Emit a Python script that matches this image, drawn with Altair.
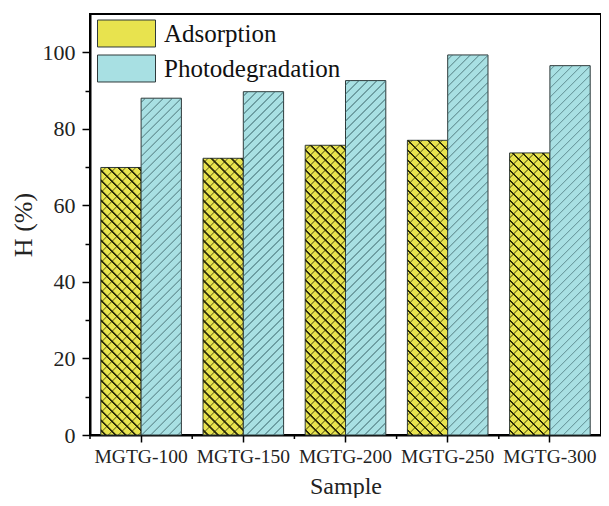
import altair as alt
import pandas as pd

# ---- data ----
samples = ["MGTG-100", "MGTG-150", "MGTG-200", "MGTG-250", "MGTG-300"]
series_names = ["Adsorption", "Photodegradation"]
adsorption = [69.9, 72.3, 75.7, 77.0, 73.7]
photodegradation = [88.0, 89.7, 92.6, 99.3, 96.5]
bar_colors = ["#E8E34E", "#A8E0E3"]
y_ticks = [0, 10, 20, 30, 40, 50, 60, 70, 80, 90, 100]

records = []
for i, s in enumerate(samples):
    records.append({"Sample": s, "Series": series_names[0], "H": adsorption[i]})
    records.append({"Sample": s, "Series": series_names[1], "H": photodegradation[i]})
df = pd.DataFrame(records)
ticks_df = pd.DataFrame({"Sample": samples})

FONT = "Liberation Serif"
W, H = 511, 421
Y_MAX = 110
OFFSET_PAD = 0.268

# bar geometry (needed to build the hatch gradients in pixel space)
STEP = W / len(samples)
BAR_W = STEP / (2 + 2 * OFFSET_PAD)


def stripe_gradient(w, h, period, thick, color, direction):
    L = w + h
    k = L / (w * w + h * h)
    if direction == "/":
        x1, y1, x2, y2 = 0, 0, w * k, h * k
    else:
        x1, y1, x2, y2 = 0, 1, w * k, 1 - h * k
    clear = "rgba(0,0,0,0)"
    stops = [{"offset": 0, "color": clear}]
    half = thick / 2.0
    edge = 0.5
    c = period / 2.0
    while c < L:
        for off, col in [(c - half - edge, clear), (c - half, color),
                         (c + half, color), (c + half + edge, clear)]:
            o = min(max(off / L, 0.0), 1.0)
            stops.append({"offset": round(o, 5), "color": col})
        c += period
    stops.append({"offset": 1, "color": clear})
    return {"gradient": "linear", "x1": x1, "y1": y1, "x2": x2, "y2": y2, "stops": stops}


x_enc = alt.X(
    "Sample:N",
    sort=samples,
    scale=alt.Scale(paddingInner=0, paddingOuter=0),
    axis=alt.Axis(
        title="Sample",
        labelAngle=0,
        labelFont=FONT,
        labelFontSize=19.5,
        labelColor="#222222",
        labelBaseline="alphabetic",
        labelPadding=20,
        tickSize=7,
        tickWidth=1.5,
        tickColor="black",
        domainColor="black",
        domainWidth=2,
        titleFont=FONT,
        titleFontSize=24,
        titleFontWeight="normal",
        titleColor="#222222",
        titleBaseline="alphabetic",
        titleY=58,
    ),
)

y_enc = alt.Y(
    "H:Q",
    scale=alt.Scale(domain=[0, Y_MAX], nice=False, zero=True),
    axis=alt.Axis(
        title="H (%)",
        values=y_ticks,
        labelExpr="datum.value % 20 === 0 ? datum.label : ''",
        tickSize={"condition": {"test": "datum.value % 20 === 0", "value": 8}, "value": 5},
        tickWidth=1.5,
        tickColor="black",
        domainColor="black",
        domainWidth=2,
        grid=False,
        labelFont=FONT,
        labelFontSize=22,
        labelColor="#222222",
        labelPadding=7,
        titleFont=FONT,
        titleFontSize=26,
        titleFontWeight="normal",
        titleColor="#222222",
        titleBaseline="alphabetic",
        titleX=-59,
    ),
)

offset_enc = alt.XOffset("Series:N", sort=series_names,
                         scale=alt.Scale(paddingInner=0, paddingOuter=OFFSET_PAD))

bars = alt.Chart(df).mark_bar(stroke="#2f3a3b", strokeWidth=1).encode(
    x=x_enc,
    xOffset=offset_enc,
    y=y_enc,
    color=alt.Color(
        "Series:N",
        scale=alt.Scale(domain=series_names, range=bar_colors),
        legend=alt.Legend(
            title=None,
            orient="none",
            legendX=21.5,
            legendY=4.5,
            symbolType="M-2,-0.93H2V0.93H-2Z",
            symbolSize=841,
            symbolStrokeColor="#2f3a3b",
            symbolStrokeWidth=1,
            symbolOpacity=1,
            labelFont=FONT,
            labelFontSize=25,
            labelColor="#111111",
            labelOffset=22.5,
            labelLimit=400,
            rowPadding=3,
            padding=0,
        ),
    ),
)

# hatch overlays, one per bar
hatch_layers = []
for rec in records:
    h_px = rec["H"] / Y_MAX * H
    if rec["Series"] == series_names[0]:
        grads = [
            stripe_gradient(BAR_W, h_px, 10, 1.7, "rgba(25,25,0,0.9)", "\\"),
            stripe_gradient(BAR_W, h_px, 10, 1.0, "rgba(40,40,0,0.45)", "/"),
        ]
    else:
        grads = [stripe_gradient(BAR_W, h_px, 9, 1.0, "rgba(70,115,120,0.6)", "/")]
    for g in grads:
        hatch_layers.append(
            alt.Chart(pd.DataFrame([rec])).mark_bar(fill=g, strokeWidth=0).encode(
                x=x_enc,
                xOffset=offset_enc,
                y=y_enc,
            )
        )

minor_x = alt.Chart(ticks_df).mark_rule(color="black", strokeWidth=1.5).encode(
    x=alt.X("Sample:N", sort=samples, bandPosition=0),
    y=alt.value(H),
    y2=alt.value(H + 4),
)

chart = alt.layer(bars, *hatch_layers, minor_x).properties(
    width=W,
    height=H,
    autosize=alt.AutoSizeParams(type="none"),
    padding={"left": 82, "top": 6, "right": 0, "bottom": 63},
    background="white",
).configure_view(
    stroke="black", strokeWidth=2
).configure_axis(
    labelFont=FONT, titleFont=FONT
).configure_legend(
    labelFont=FONT
)

chart.save("out.html", embed_options={"renderer": "svg", "actions": False})
